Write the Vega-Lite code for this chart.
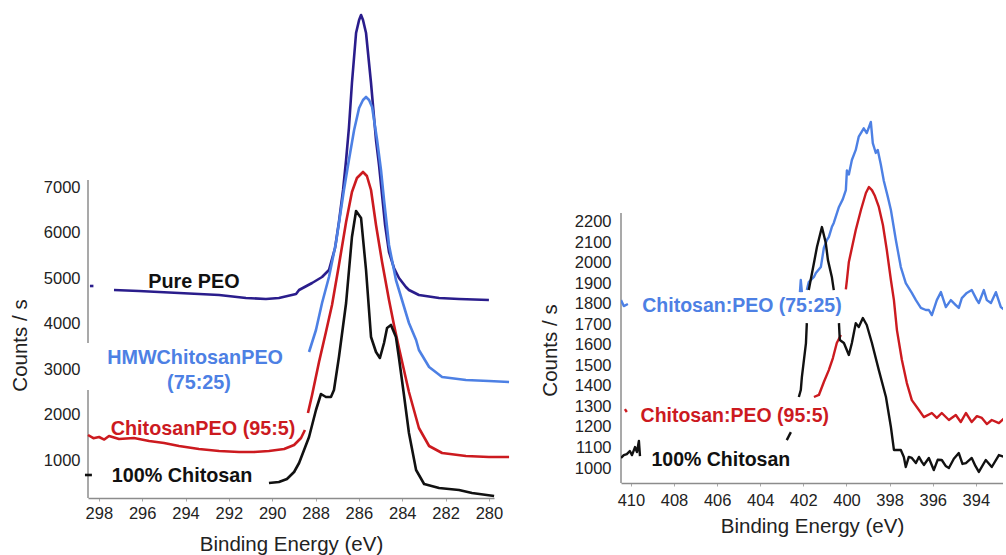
{
"$schema": "https://vega.github.io/schema/vega-lite/v6.json",
"padding": {"left": 10, "top": 5, "right": 0, "bottom": 0},
"background": "white",
"bounds": "flush",
"spacing": 127,
"resolve": {"scale": {"color": "independent"}},
"config": {
 "view": {"stroke": null},
 "font": "Liberation Sans",
 "axis": {"grid": false, "labelFont": "Liberation Sans", "titleFont": "Liberation Sans", "labelFontSize": 16.5, "titleFontSize": 20.5, "titleFontWeight": "normal", "labelColor": "#222", "titleColor": "#222", "domainColor": "#8c8c8c", "tickColor": "#aaaaaa", "domainWidth": 1.5, "labelFlush": false, "labelOverlap": false}
},
"datasets": {
 "leftAxis": [{"e": 298.5, "c": 3574, "c2": 7160}, {"e": 298.5, "c": 164, "c2": 2540}],
 "rightAxis": [{"e": 410.46, "c": 927, "c2": 2242}],
 "leftLabels": [
  {"t": "Pure PEO", "s": "K", "e": 293.61, "c": 4916},
  {"t": "HMWChitosanPEO", "s": "HMW", "e": 293.56, "c": 3244},
  {"t": "(75:25)", "s": "HMW", "e": 293.38, "c": 2694},
  {"t": "ChitosanPEO (95:5)", "s": "C95", "e": 293.19, "c": 1682},
  {"t": "100% Chitosan", "s": "K", "e": 294.16, "c": 648}
 ],
 "rightLabels": [
  {"t": "Chitosan:PEO (75:25)", "s": "R75", "e": 404.85, "c": 1789},
  {"t": "Chitosan:PEO (95:5)", "s": "R95", "e": 405.18, "c": 1253},
  {"t": "100% Chitosan", "s": "K", "e": 405.83, "c": 1039}
 ],
 "left": [
  {"s":"PEO","g":"PEO-a","e":298.41,"c":4828},{"s":"PEO","g":"PEO-a","e":298.25,"c":4828},
  {"s":"PEO","g":"PEO-b","e":297.30,"c":4740},{"s":"PEO","g":"PEO-b","e":296.15,"c":4718},{"s":"PEO","g":"PEO-b","e":294.30,"c":4674},{"s":"PEO","g":"PEO-b","e":292.45,"c":4630},{"s":"PEO","g":"PEO-b","e":291.21,"c":4564},{"s":"PEO","g":"PEO-b","e":290.29,"c":4542},{"s":"PEO","g":"PEO-b","e":289.69,"c":4564},{"s":"PEO","g":"PEO-b","e":288.90,"c":4650},{"s":"PEO","g":"PEO-b","e":288.76,"c":4740},{"s":"PEO","g":"PEO-b","e":288.16,"c":4894},{"s":"PEO","g":"PEO-b","e":287.70,"c":5026},{"s":"PEO","g":"PEO-b","e":287.38,"c":5180},{"s":"PEO","g":"PEO-b","e":287.10,"c":5664},{"s":"PEO","g":"PEO-b","e":286.92,"c":6236},{"s":"PEO","g":"PEO-b","e":286.73,"c":6940},{"s":"PEO","g":"PEO-b","e":286.59,"c":7600},{"s":"PEO","g":"PEO-b","e":286.46,"c":8304},{"s":"PEO","g":"PEO-b","e":286.32,"c":9294},{"s":"PEO","g":"PEO-b","e":286.13,"c":10394},{"s":"PEO","g":"PEO-b","e":285.99,"c":10680},{"s":"PEO","g":"PEO-b","e":285.90,"c":10790},{"s":"PEO","g":"PEO-b","e":285.81,"c":10680},{"s":"PEO","g":"PEO-b","e":285.67,"c":10394},{"s":"PEO","g":"PEO-b","e":285.44,"c":9294},{"s":"PEO","g":"PEO-b","e":285.21,"c":8040},{"s":"PEO","g":"PEO-b","e":285.07,"c":7490},{"s":"PEO","g":"PEO-b","e":284.93,"c":6830},{"s":"PEO","g":"PEO-b","e":284.79,"c":6170},{"s":"PEO","g":"PEO-b","e":284.61,"c":5576},{"s":"PEO","g":"PEO-b","e":284.38,"c":5224},{"s":"PEO","g":"PEO-b","e":284.15,"c":5004},{"s":"PEO","g":"PEO-b","e":283.83,"c":4806},{"s":"PEO","g":"PEO-b","e":283.69,"c":4740},{"s":"PEO","g":"PEO-b","e":283.23,"c":4630},{"s":"PEO","g":"PEO-b","e":282.30,"c":4564},{"s":"PEO","g":"PEO-b","e":281.38,"c":4542},{"s":"PEO","g":"PEO-b","e":280.00,"c":4520},
  {"s":"HMW","g":"HMW-a","e":288.30,"c":3376},{"s":"HMW","g":"HMW-a","e":287.98,"c":3860},{"s":"HMW","g":"HMW-a","e":287.70,"c":4454},{"s":"HMW","g":"HMW-a","e":287.38,"c":5026},{"s":"HMW","g":"HMW-a","e":287.06,"c":5774},{"s":"HMW","g":"HMW-a","e":286.78,"c":6654},{"s":"HMW","g":"HMW-a","e":286.69,"c":6940},{"s":"HMW","g":"HMW-a","e":286.46,"c":7600},{"s":"HMW","g":"HMW-a","e":286.22,"c":8260},{"s":"HMW","g":"HMW-a","e":285.99,"c":8744},{"s":"HMW","g":"HMW-a","e":285.81,"c":8920},{"s":"HMW","g":"HMW-a","e":285.67,"c":8986},{"s":"HMW","g":"HMW-a","e":285.53,"c":8920},{"s":"HMW","g":"HMW-a","e":285.39,"c":8766},{"s":"HMW","g":"HMW-a","e":285.16,"c":8040},{"s":"HMW","g":"HMW-a","e":284.98,"c":7380},{"s":"HMW","g":"HMW-a","e":284.84,"c":6720},{"s":"HMW","g":"HMW-a","e":284.61,"c":5730},{"s":"HMW","g":"HMW-a","e":284.29,"c":4960},{"s":"HMW","g":"HMW-a","e":284.15,"c":4740},{"s":"HMW","g":"HMW-a","e":283.83,"c":4234},{"s":"HMW","g":"HMW-a","e":283.69,"c":4014},{"s":"HMW","g":"HMW-a","e":283.36,"c":3640},{"s":"HMW","g":"HMW-a","e":283.23,"c":3420},{"s":"HMW","g":"HMW-a","e":282.76,"c":3046},{"s":"HMW","g":"HMW-a","e":282.16,"c":2826},{"s":"HMW","g":"HMW-a","e":281.06,"c":2760},{"s":"HMW","g":"HMW-a","e":280.00,"c":2738},{"s":"HMW","g":"HMW-a","e":279.07,"c":2716},
  {"s":"C95","g":"C95-a","e":298.50,"c":1550},{"s":"C95","g":"C95-a","e":298.25,"c":1480},{"s":"C95","g":"C95-a","e":297.99,"c":1506},{"s":"C95","g":"C95-a","e":297.75,"c":1450},{"s":"C95","g":"C95-a","e":297.53,"c":1528},{"s":"C95","g":"C95-a","e":297.07,"c":1462},{"s":"C95","g":"C95-a","e":296.38,"c":1484},{"s":"C95","g":"C95-a","e":295.68,"c":1418},{"s":"C95","g":"C95-a","e":294.99,"c":1374},{"s":"C95","g":"C95-a","e":294.30,"c":1308},{"s":"C95","g":"C95-a","e":293.38,"c":1242},{"s":"C95","g":"C95-a","e":292.45,"c":1198},{"s":"C95","g":"C95-a","e":291.53,"c":1176},{"s":"C95","g":"C95-a","e":290.84,"c":1176},{"s":"C95","g":"C95-a","e":290.15,"c":1198},{"s":"C95","g":"C95-a","e":289.45,"c":1242},{"s":"C95","g":"C95-a","e":288.99,"c":1330},{"s":"C95","g":"C95-a","e":288.67,"c":1484},{"s":"C95","g":"C95-a","e":288.49,"c":1660},
  {"s":"C95","g":"C95-b","e":288.35,"c":2034},{"s":"C95","g":"C95-b","e":288.16,"c":2430},{"s":"C95","g":"C95-b","e":287.84,"c":3156},{"s":"C95","g":"C95-b","e":287.52,"c":3816},{"s":"C95","g":"C95-b","e":287.24,"c":4410},{"s":"C95","g":"C95-b","e":286.92,"c":5290},{"s":"C95","g":"C95-b","e":286.59,"c":6236},{"s":"C95","g":"C95-b","e":286.32,"c":6896},{"s":"C95","g":"C95-b","e":286.09,"c":7204},{"s":"C95","g":"C95-b","e":285.81,"c":7336},{"s":"C95","g":"C95-b","e":285.63,"c":7248},{"s":"C95","g":"C95-b","e":285.44,"c":6940},{"s":"C95","g":"C95-b","e":285.21,"c":6170},{"s":"C95","g":"C95-b","e":284.93,"c":5356},{"s":"C95","g":"C95-b","e":284.61,"c":4520},{"s":"C95","g":"C95-b","e":284.38,"c":3970},{"s":"C95","g":"C95-b","e":284.15,"c":3464},{"s":"C95","g":"C95-b","e":283.69,"c":2496},{"s":"C95","g":"C95-b","e":283.23,"c":1704},{"s":"C95","g":"C95-b","e":282.76,"c":1308},{"s":"C95","g":"C95-b","e":282.16,"c":1154},{"s":"C95","g":"C95-b","e":281.06,"c":1088},{"s":"C95","g":"C95-b","e":280.00,"c":1066},{"s":"C95","g":"C95-b","e":279.07,"c":1066},
  {"s":"CH","g":"CH-a","e":298.64,"c":670},{"s":"CH","g":"CH-a","e":298.32,"c":670},
  {"s":"CH","g":"CH-b","e":290.15,"c":494},{"s":"CH","g":"CH-b","e":289.69,"c":516},{"s":"CH","g":"CH-b","e":289.32,"c":582},{"s":"CH","g":"CH-b","e":288.99,"c":736},{"s":"CH","g":"CH-b","e":288.76,"c":934},{"s":"CH","g":"CH-b","e":288.53,"c":1220},{"s":"CH","g":"CH-b","e":288.30,"c":1506},{"s":"CH","g":"CH-b","e":287.98,"c":2100},{"s":"CH","g":"CH-b","e":287.75,"c":2452},{"s":"CH","g":"CH-b","e":287.52,"c":2386},{"s":"CH","g":"CH-b","e":287.29,"c":2386},{"s":"CH","g":"CH-b","e":287.15,"c":2540},{"s":"CH","g":"CH-b","e":286.92,"c":3266},{"s":"CH","g":"CH-b","e":286.59,"c":4454},{"s":"CH","g":"CH-b","e":286.32,"c":5906},{"s":"CH","g":"CH-b","e":286.13,"c":6478},{"s":"CH","g":"CH-b","e":285.90,"c":6324},{"s":"CH","g":"CH-b","e":285.67,"c":5180},{"s":"CH","g":"CH-b","e":285.44,"c":3706},{"s":"CH","g":"CH-b","e":285.21,"c":3376},{"s":"CH","g":"CH-b","e":285.03,"c":3244},{"s":"CH","g":"CH-b","e":284.84,"c":3574},{"s":"CH","g":"CH-b","e":284.70,"c":3904},{"s":"CH","g":"CH-b","e":284.52,"c":3970},{"s":"CH","g":"CH-b","e":284.29,"c":3706},{"s":"CH","g":"CH-b","e":284.15,"c":3244},{"s":"CH","g":"CH-b","e":283.92,"c":2430},{"s":"CH","g":"CH-b","e":283.69,"c":1594},{"s":"CH","g":"CH-b","e":283.36,"c":780},{"s":"CH","g":"CH-b","e":282.99,"c":472},{"s":"CH","g":"CH-b","e":282.30,"c":384},{"s":"CH","g":"CH-b","e":281.38,"c":340},{"s":"CH","g":"CH-b","e":280.78,"c":274},{"s":"CH","g":"CH-b","e":279.76,"c":208}
 ],
 "right": [
  {"s":"R75","g":"R75-a","e":410.46,"c":1818},{"s":"R75","g":"R75-a","e":410.33,"c":1789},{"s":"R75","g":"R75-a","e":410.14,"c":1799},
  {"s":"R75","g":"R75-b","e":402.16,"c":1857},{"s":"R75","g":"R75-b","e":402.12,"c":1916},{"s":"R75","g":"R75-b","e":402.07,"c":1857},
  {"s":"R75","g":"R75-c","e":401.84,"c":1867},{"s":"R75","g":"R75-c","e":401.75,"c":1906},{"s":"R75","g":"R75-c","e":401.51,"c":1931},{"s":"R75","g":"R75-c","e":401.42,"c":1950},{"s":"R75","g":"R75-c","e":401.19,"c":1979},{"s":"R75","g":"R75-c","e":401.05,"c":2072},{"s":"R75","g":"R75-c","e":400.91,"c":2111},{"s":"R75","g":"R75-c","e":400.82,"c":2125},{"s":"R75","g":"R75-c","e":400.68,"c":2174},{"s":"R75","g":"R75-c","e":400.59,"c":2194},{"s":"R75","g":"R75-c","e":400.35,"c":2272},{"s":"R75","g":"R75-c","e":400.17,"c":2310},{"s":"R75","g":"R75-c","e":400.03,"c":2354},{"s":"R75","g":"R75-c","e":399.98,"c":2450},{"s":"R75","g":"R75-c","e":399.89,"c":2430},{"s":"R75","g":"R75-c","e":399.75,"c":2501},{"s":"R75","g":"R75-c","e":399.57,"c":2550},{"s":"R75","g":"R75-c","e":399.43,"c":2615},{"s":"R75","g":"R75-c","e":399.20,"c":2655},{"s":"R75","g":"R75-c","e":399.06,"c":2632},{"s":"R75","g":"R75-c","e":398.87,"c":2686},{"s":"R75","g":"R75-c","e":398.78,"c":2583},{"s":"R75","g":"R75-c","e":398.64,"c":2535},{"s":"R75","g":"R75-c","e":398.55,"c":2550},{"s":"R75","g":"R75-c","e":398.41,"c":2480},{"s":"R75","g":"R75-c","e":398.27,"c":2400},{"s":"R75","g":"R75-c","e":398.08,"c":2320},{"s":"R75","g":"R75-c","e":397.94,"c":2257},{"s":"R75","g":"R75-c","e":397.71,"c":2111},{"s":"R75","g":"R75-c","e":397.48,"c":1979},{"s":"R75","g":"R75-c","e":397.25,"c":1901},{"s":"R75","g":"R75-c","e":396.97,"c":1853},{"s":"R75","g":"R75-c","e":396.78,"c":1818},{"s":"R75","g":"R75-c","e":396.55,"c":1780},{"s":"R75","g":"R75-c","e":396.32,"c":1770},{"s":"R75","g":"R75-c","e":396.18,"c":1770},{"s":"R75","g":"R75-c","e":396.04,"c":1745},{"s":"R75","g":"R75-c","e":395.81,"c":1818},{"s":"R75","g":"R75-c","e":395.62,"c":1857},{"s":"R75","g":"R75-c","e":395.39,"c":1784},{"s":"R75","g":"R75-c","e":395.16,"c":1818},{"s":"R75","g":"R75-c","e":394.93,"c":1794},{"s":"R75","g":"R75-c","e":394.79,"c":1780},{"s":"R75","g":"R75-c","e":394.65,"c":1828},{"s":"R75","g":"R75-c","e":394.42,"c":1853},{"s":"R75","g":"R75-c","e":394.19,"c":1867},{"s":"R75","g":"R75-c","e":393.95,"c":1818},{"s":"R75","g":"R75-c","e":393.86,"c":1804},{"s":"R75","g":"R75-c","e":393.63,"c":1867},{"s":"R75","g":"R75-c","e":393.49,"c":1818},{"s":"R75","g":"R75-c","e":393.30,"c":1804},{"s":"R75","g":"R75-c","e":393.07,"c":1857},{"s":"R75","g":"R75-c","e":392.84,"c":1784},{"s":"R75","g":"R75-c","e":392.66,"c":1770},
  {"s":"R95","g":"R95-a","e":410.28,"c":1287},{"s":"R95","g":"R95-a","e":410.19,"c":1273},
  {"s":"R95","g":"R95-b","e":401.51,"c":1346},{"s":"R95","g":"R95-b","e":401.28,"c":1356},{"s":"R95","g":"R95-b","e":401.05,"c":1419},{"s":"R95","g":"R95-b","e":400.82,"c":1477},{"s":"R95","g":"R95-b","e":400.63,"c":1536},{"s":"R95","g":"R95-b","e":400.45,"c":1609},{"s":"R95","g":"R95-b","e":400.26,"c":1648},
  {"s":"R95","g":"R95-c","e":400.03,"c":1870},{"s":"R95","g":"R95-c","e":399.98,"c":1916},{"s":"R95","g":"R95-c","e":399.89,"c":2004},{"s":"R95","g":"R95-c","e":399.75,"c":2072},{"s":"R95","g":"R95-c","e":399.57,"c":2160},{"s":"R95","g":"R95-c","e":399.33,"c":2257},{"s":"R95","g":"R95-c","e":399.10,"c":2340},{"s":"R95","g":"R95-c","e":398.96,"c":2369},{"s":"R95","g":"R95-c","e":398.82,"c":2354},{"s":"R95","g":"R95-c","e":398.68,"c":2325},{"s":"R95","g":"R95-c","e":398.50,"c":2272},{"s":"R95","g":"R95-c","e":398.31,"c":2184},{"s":"R95","g":"R95-c","e":398.13,"c":2062},{"s":"R95","g":"R95-c","e":397.94,"c":1916},{"s":"R95","g":"R95-c","e":397.80,"c":1818},{"s":"R95","g":"R95-c","e":397.66,"c":1672},{"s":"R95","g":"R95-c","e":397.43,"c":1526},{"s":"R95","g":"R95-c","e":397.20,"c":1414},{"s":"R95","g":"R95-c","e":396.97,"c":1331},{"s":"R95","g":"R95-c","e":396.64,"c":1283},{"s":"R95","g":"R95-c","e":396.41,"c":1248},{"s":"R95","g":"R95-c","e":396.04,"c":1268},{"s":"R95","g":"R95-c","e":395.81,"c":1244},{"s":"R95","g":"R95-c","e":395.58,"c":1268},{"s":"R95","g":"R95-c","e":395.25,"c":1234},{"s":"R95","g":"R95-c","e":394.93,"c":1258},{"s":"R95","g":"R95-c","e":394.70,"c":1224},{"s":"R95","g":"R95-c","e":394.46,"c":1268},{"s":"R95","g":"R95-c","e":394.19,"c":1224},{"s":"R95","g":"R95-c","e":393.95,"c":1253},{"s":"R95","g":"R95-c","e":393.72,"c":1244},{"s":"R95","g":"R95-c","e":393.49,"c":1214},{"s":"R95","g":"R95-c","e":393.26,"c":1234},{"s":"R95","g":"R95-c","e":392.93,"c":1219},{"s":"R95","g":"R95-c","e":392.66,"c":1244},
  {"s":"RCH","g":"RCH-a","e":410.46,"c":1049},{"s":"RCH","g":"RCH-a","e":410.33,"c":1063},{"s":"RCH","g":"RCH-a","e":410.19,"c":1068},{"s":"RCH","g":"RCH-a","e":410.05,"c":1083},{"s":"RCH","g":"RCH-a","e":409.95,"c":1063},{"s":"RCH","g":"RCH-a","e":409.81,"c":1102},{"s":"RCH","g":"RCH-a","e":409.72,"c":1078},{"s":"RCH","g":"RCH-a","e":409.63,"c":1132},{"s":"RCH","g":"RCH-a","e":409.58,"c":1058},
  {"s":"RCH","g":"RCH-b","e":402.77,"c":1136},{"s":"RCH","g":"RCH-b","e":402.58,"c":1175},
  {"s":"RCH","g":"RCH-c","e":402.21,"c":1346},{"s":"RCH","g":"RCH-c","e":402.12,"c":1380},{"s":"RCH","g":"RCH-c","e":402.07,"c":1443},{"s":"RCH","g":"RCH-c","e":401.88,"c":1609},{"s":"RCH","g":"RCH-c","e":401.84,"c":1706},
  {"s":"RCH","g":"RCH-d","e":401.75,"c":1867},{"s":"RCH","g":"RCH-d","e":401.51,"c":1999},{"s":"RCH","g":"RCH-d","e":401.37,"c":2077},{"s":"RCH","g":"RCH-d","e":401.14,"c":2174},{"s":"RCH","g":"RCH-d","e":400.96,"c":2096},{"s":"RCH","g":"RCH-d","e":400.86,"c":2013},{"s":"RCH","g":"RCH-d","e":400.68,"c":1931},{"s":"RCH","g":"RCH-d","e":400.59,"c":1867},
  {"s":"RCH","g":"RCH-e","e":400.35,"c":1706},{"s":"RCH","g":"RCH-e","e":400.31,"c":1624},{"s":"RCH","g":"RCH-e","e":400.12,"c":1609},{"s":"RCH","g":"RCH-e","e":399.89,"c":1551},{"s":"RCH","g":"RCH-e","e":399.75,"c":1609},{"s":"RCH","g":"RCH-e","e":399.57,"c":1706},{"s":"RCH","g":"RCH-e","e":399.43,"c":1687},{"s":"RCH","g":"RCH-e","e":399.24,"c":1731},{"s":"RCH","g":"RCH-e","e":399.06,"c":1697},{"s":"RCH","g":"RCH-e","e":398.82,"c":1609},{"s":"RCH","g":"RCH-e","e":398.50,"c":1477},{"s":"RCH","g":"RCH-e","e":398.17,"c":1346},{"s":"RCH","g":"RCH-e","e":397.94,"c":1200},{"s":"RCH","g":"RCH-e","e":397.80,"c":1088},{"s":"RCH","g":"RCH-e","e":397.48,"c":1088},{"s":"RCH","g":"RCH-e","e":397.34,"c":1054},{"s":"RCH","g":"RCH-e","e":397.25,"c":1005},{"s":"RCH","g":"RCH-e","e":397.11,"c":1054},{"s":"RCH","g":"RCH-e","e":396.97,"c":1049},{"s":"RCH","g":"RCH-e","e":396.78,"c":1024},{"s":"RCH","g":"RCH-e","e":396.64,"c":1054},{"s":"RCH","g":"RCH-e","e":396.50,"c":1029},{"s":"RCH","g":"RCH-e","e":396.41,"c":1015},{"s":"RCH","g":"RCH-e","e":396.18,"c":1049},{"s":"RCH","g":"RCH-e","e":395.95,"c":990},{"s":"RCH","g":"RCH-e","e":395.77,"c":1040},{"s":"RCH","g":"RCH-e","e":395.58,"c":1039},{"s":"RCH","g":"RCH-e","e":395.40,"c":1010},{"s":"RCH","g":"RCH-e","e":395.25,"c":1000},{"s":"RCH","g":"RCH-e","e":395.02,"c":1045},{"s":"RCH","g":"RCH-e","e":394.79,"c":1073},{"s":"RCH","g":"RCH-e","e":394.62,"c":1020},{"s":"RCH","g":"RCH-e","e":394.46,"c":1024},{"s":"RCH","g":"RCH-e","e":394.19,"c":1049},{"s":"RCH","g":"RCH-e","e":394.02,"c":1010},{"s":"RCH","g":"RCH-e","e":393.86,"c":981},{"s":"RCH","g":"RCH-e","e":393.54,"c":1039},{"s":"RCH","g":"RCH-e","e":393.26,"c":1005},{"s":"RCH","g":"RCH-e","e":392.93,"c":1063},{"s":"RCH","g":"RCH-e","e":392.66,"c":1054}
 ]
},
"hconcat": [
 {
  "width": 406, "height": 493,
  "encoding": {
   "x": {"field": "e", "type": "quantitative", "scale": {"domain": [298.5, 279.765], "nice": false, "zero": false},
     "axis": {"values": [298,296,294,292,290,288,286,284,282,280], "format": "d", "title": "Binding Energy (eV)", "tickSize": 3, "labelPadding": 4, "titlePadding": 12.5, "labelOverlap": false}},
   "y": {"field": "c", "type": "quantitative", "scale": {"domain": [164, 11010], "nice": false, "zero": false},
     "axis": {"values": [1000,2000,3000,4000,5000,6000,7000], "format": "d", "title": "Counts / s", "domain": false, "ticks": false, "labelPadding": 8, "titleX": -57.5, "titleY": 340, "labelOverlap": false}}
  },
  "layer": [
   {"data": {"name": "leftAxis"}, "mark": {"type": "rule", "color": "#8c8c8c", "strokeWidth": 1.5},
    "encoding": {"y2": {"field": "c2"}}},
   {"data": {"name": "left"}, "mark": {"type": "line", "strokeWidth": 2.6, "clip": false, "strokeJoin": "round"},
    "encoding": {
     "color": {"field": "s", "type": "nominal", "legend": null, "scale": {"domain": ["PEO","HMW","C95","CH","K","R75","R95","RCH"], "range": ["#2a1d8c","#4d80e4","#cc1a1f","#111111","#111111","#4d80e4","#cc1a1f","#111111"]}},
     "detail": {"field": "g"}}},
   {"data": {"name": "leftLabels"}, "mark": {"type": "text", "fontSize": 19.8, "fontWeight": "bold", "align": "center", "baseline": "middle", "font": "Liberation Sans"},
    "encoding": {
     "text": {"field": "t"},
     "color": {"field": "s", "type": "nominal", "legend": null, "scale": {"domain": ["PEO","HMW","C95","CH","K","R75","R95","RCH"], "range": ["#2a1d8c","#4d80e4","#cc1a1f","#111111","#111111","#4d80e4","#cc1a1f","#111111"]}}}}
  ]
 },
 {
  "width": 382, "height": 478,
  "encoding": {
   "x": {"field": "e", "type": "quantitative", "scale": {"domain": [410.46, 392.74], "nice": false, "zero": false},
     "axis": {"values": [410,408,406,404,402,400,398,396,394], "format": "d", "title": "Binding Energy (eV)", "tickSize": 3, "labelPadding": 6, "titlePadding": 7.5, "labelOverlap": false}},
   "y": {"field": "c", "type": "quantitative", "scale": {"domain": [927, 3256], "nice": false, "zero": false},
     "axis": {"values": [1000,1100,1200,1300,1400,1500,1600,1700,1800,1900,2000,2100,2200], "format": "d", "title": "Counts / s", "domain": false, "ticks": false, "labelPadding": 10, "titleX": -60.5, "titleY": 345, "labelOverlap": false}}
  },
  "layer": [
   {"data": {"name": "rightAxis"}, "mark": {"type": "rule", "color": "#8c8c8c", "strokeWidth": 1.5},
    "encoding": {"y2": {"field": "c2"}}},
   {"data": {"name": "right"}, "mark": {"type": "line", "strokeWidth": 2.4, "clip": true, "strokeJoin": "round"},
    "encoding": {
     "color": {"field": "s", "type": "nominal", "legend": null, "scale": {"domain": ["PEO","HMW","C95","CH","K","R75","R95","RCH"], "range": ["#2a1d8c","#4d80e4","#cc1a1f","#111111","#111111","#4d80e4","#cc1a1f","#111111"]}},
     "detail": {"field": "g"}}},
   {"data": {"name": "rightLabels"}, "mark": {"type": "text", "fontSize": 19.5, "fontWeight": "bold", "align": "center", "baseline": "middle", "font": "Liberation Sans"},
    "encoding": {
     "text": {"field": "t"},
     "color": {"field": "s", "type": "nominal", "legend": null, "scale": {"domain": ["PEO","HMW","C95","CH","K","R75","R95","RCH"], "range": ["#2a1d8c","#4d80e4","#cc1a1f","#111111","#111111","#4d80e4","#cc1a1f","#111111"]}}}}
  ]
 }
]
}
